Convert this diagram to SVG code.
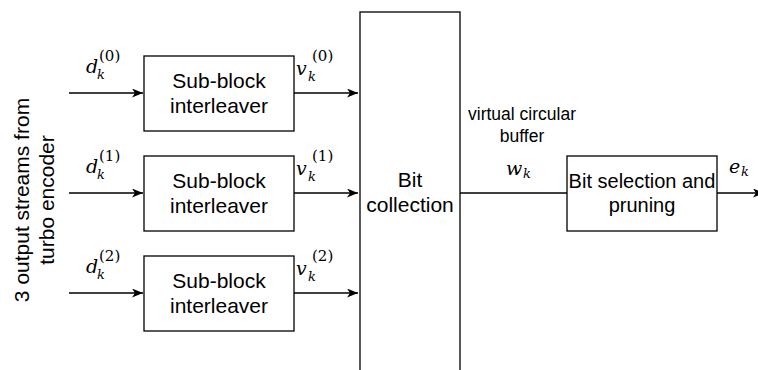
<svg xmlns="http://www.w3.org/2000/svg" width="758" height="370" viewBox="0 0 758 370">
<style>
.box{fill:#fff;stroke:#000;stroke-width:1.3}
.ln{fill:none;stroke:#000;stroke-width:1.3}
.t{font-family:"Liberation Sans",Arial,sans-serif;font-size:21px;fill:#000;text-anchor:middle}
.m{font-family:"DejaVu Serif","Liberation Serif",serif;font-style:italic;font-size:19px;fill:#000}
.s{font-family:"DejaVu Serif","Liberation Serif",serif;font-style:italic;font-size:13px;fill:#000}
.p{font-family:"DejaVu Serif","Liberation Serif",serif;font-size:15px;fill:#000}
</style>
<defs>
<marker id="ah" markerUnits="userSpaceOnUse" markerWidth="12" markerHeight="10" refX="11" refY="4.5" orient="auto">
<path d="M0,0 L11,4.5 L0,9 L3,4.5 Z" fill="#000"/>
</marker>
</defs>
<rect width="758" height="370" fill="#fff"/>
<g id="connectors">
<line class="ln" x1="69" y1="93" x2="143" y2="93" marker-end="url(#ah)"/>
<line class="ln" x1="69" y1="193" x2="143" y2="193" marker-end="url(#ah)"/>
<line class="ln" x1="69" y1="293" x2="143" y2="293" marker-end="url(#ah)"/>
<line class="ln" x1="294" y1="93" x2="358" y2="93" marker-end="url(#ah)"/>
<line class="ln" x1="294" y1="193" x2="358" y2="193" marker-end="url(#ah)"/>
<line class="ln" x1="294" y1="293" x2="358" y2="293" marker-end="url(#ah)"/>
<line class="ln" x1="460" y1="193" x2="567" y2="193"/>
<line class="ln" x1="717" y1="193" x2="764" y2="193" marker-end="url(#ah)"/>
</g>
<g id="label-streams">
<text class="t" transform="translate(29,200) rotate(-90)">3 output streams from</text>
<text class="t" transform="translate(54,200) rotate(-90)">turbo encoder</text>
</g>
<g id="sbi0">
<rect class="box" x="144" y="56" width="150" height="75"/>
<text class="t" x="219" y="88">Sub-block</text>
<text class="t" x="219" y="113">interleaver</text>
</g>
<g id="sbi1">
<rect class="box" x="144" y="156" width="150" height="75"/>
<text class="t" x="219" y="188">Sub-block</text>
<text class="t" x="219" y="213">interleaver</text>
</g>
<g id="sbi2">
<rect class="box" x="144" y="256" width="150" height="75"/>
<text class="t" x="219" y="288">Sub-block</text>
<text class="t" x="219" y="313">interleaver</text>
</g>
<g id="bitcollection">
<rect class="box" x="360" y="12" width="100" height="370"/>
<text class="t" x="410" y="187">Bit</text>
<text class="t" x="410" y="212">collection</text>
</g>
<g id="bitselection">
<rect class="box" x="567" y="156" width="150" height="75"/>
<text class="t" x="642" y="188" style="font-size:20px">Bit selection and</text>
<text class="t" x="642" y="212" style="font-size:20px">pruning</text>
</g>
<g id="label-buffer">
<text class="t" x="522" y="120" style="font-size:17.5px">virtual circular</text>
<text class="t" x="522" y="142" style="font-size:17.5px">buffer</text>
</g>
<g id="math-labels">
<text class="m" x="86" y="73">d</text><text class="s" x="97" y="79">k</text><text class="p" x="99" y="61">(0)</text>
<text class="m" x="86" y="173">d</text><text class="s" x="97" y="179">k</text><text class="p" x="99" y="161">(1)</text>
<text class="m" x="86" y="273">d</text><text class="s" x="97" y="279">k</text><text class="p" x="99" y="261">(2)</text>
<text class="m" x="296" y="75">v</text><text class="s" x="308" y="81">k</text><text class="p" x="312" y="61">(0)</text>
<text class="m" x="296" y="175">v</text><text class="s" x="308" y="181">k</text><text class="p" x="312" y="161">(1)</text>
<text class="m" x="296" y="275">v</text><text class="s" x="308" y="281">k</text><text class="p" x="312" y="261">(2)</text>
<text class="m" x="506" y="175">w</text><text class="s" x="523" y="178">k</text>
<text class="m" x="729" y="173">e</text><text class="s" x="741" y="176">k</text>
</g>
</svg>
